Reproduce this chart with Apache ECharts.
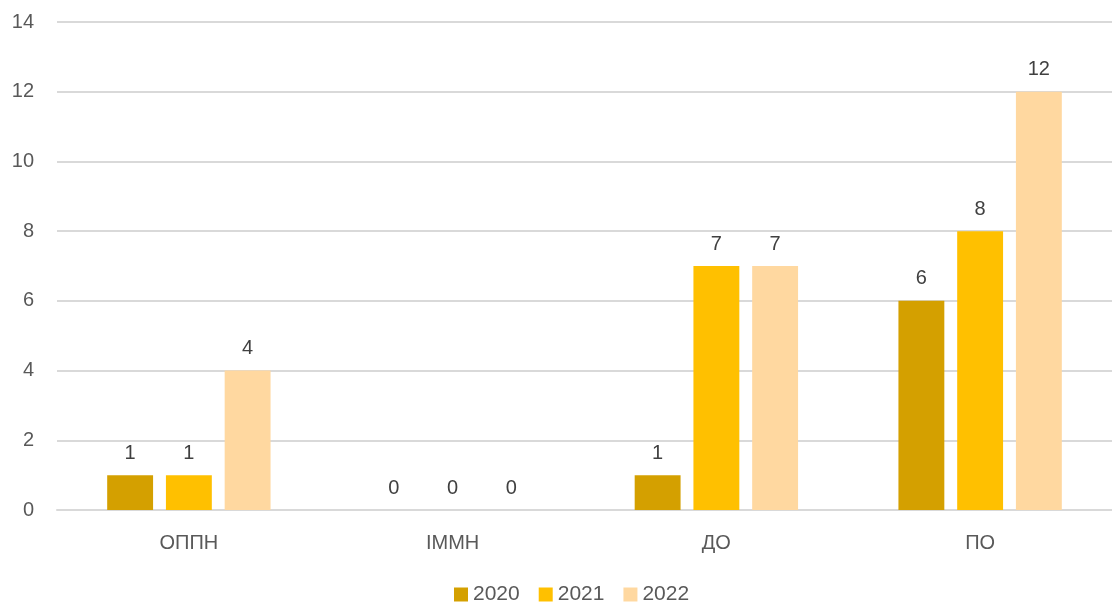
<!DOCTYPE html>
<html>
<head>
<meta charset="utf-8">
<script src="https://cdn.jsdelivr.net/npm/echarts@6/dist/echarts.min.js"></script>
<style>
  html, body { margin: 0; padding: 0; background: #fff; }
  #chart { width: 1112px; height: 605px; }
</style>
</head>
<body>
<div id="chart"></div>
<script>
const categories = ['ОППН', 'ІММН', 'ДО', 'ПО'];
const years = ['2020', '2021', '2022'];
const values2020 = [1, 0, 1, 6];
const values2021 = [1, 0, 7, 8];
const values2022 = [4, 0, 7, 12];
const yTicks = [0, 2, 4, 6, 8, 10, 12, 14];

const colors = ['#D4A000', '#FFC000', '#FFD8A0'];
const textColor = '#595959';
const font = 'Liberation Sans';

const chart = echarts.init(document.getElementById('chart'));

const makeSeries = (name, data, i) => ({
  name: name,
  type: 'bar',
  data: data,
  barWidth: '17.4%',
  barGap: '28%',
  itemStyle: { color: colors[i] },
  label: {
    show: true,
    position: 'top',
    distance: 12,
    color: '#404040',
    fontSize: 20,
    fontFamily: font
  }
});

chart.setOption({
  animation: false,
  textStyle: { fontFamily: font },
  grid: { left: 57, width: 1059, top: 22, bottom: 95 },
  legend: {
    top: 584,
    left: 454,
    padding: 0,
    itemWidth: 14,
    itemHeight: 14,
    itemGap: 19,
    icon: 'rect',
    textStyle: { color: textColor, fontSize: 21, fontFamily: font },
    data: years
  },
  xAxis: {
    type: 'category',
    data: categories,
    axisLine: { lineStyle: { color: '#D9D9D9', width: 2 } },
    axisTick: { show: false },
    axisLabel: { color: textColor, fontSize: 20, fontFamily: font, margin: 23 }
  },
  yAxis: {
    type: 'value',
    min: yTicks[0],
    max: yTicks[yTicks.length - 1],
    interval: 2,
    axisLine: { show: false },
    axisTick: { show: false },
    axisLabel: { color: textColor, fontSize: 20, fontFamily: font, margin: 23 },
    splitLine: { lineStyle: { color: '#D9D9D9', width: 2 } }
  },
  series: [
    makeSeries(years[0], values2020, 0),
    makeSeries(years[1], values2021, 1),
    makeSeries(years[2], values2022, 2)
  ]
});
</script>
</body>
</html>
